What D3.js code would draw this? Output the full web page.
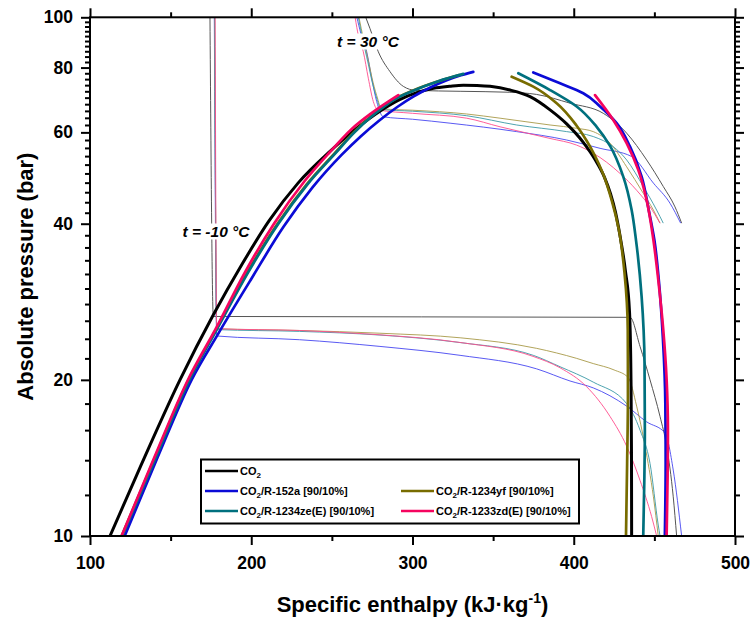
<!DOCTYPE html>
<html><head><meta charset="utf-8">
<script src="https://cdn.jsdelivr.net/npm/d3@7"></script>
<style>
body{margin:0;background:#fff}
text{font-family:Arial,"Liberation Sans",sans-serif;}
</style>
</head><body>
<svg id="chart" width="751" height="626"></svg>
<script>
// ---------- axis ticks ----------
const xTicks = [100, 200, 300, 400, 500];
const xMinorTicks = [150, 250, 350, 450];
const yTicks = [10, 20, 40, 60, 80, 100];
const yMinorTicks = [12,14,16,18,22,24,26,28,30,32,34,36,38,42,44,46,48,50,52,54,56,58,62,64,66,68,70,72,74,76,78,82,84,86,88,90,92,94,96,98];

// ---------- series ----------
const fluidNames = ["CO2", "CO2/R-152a [90/10%]", "CO2/R-1234yf [90/10%]", "CO2/R-1234ze(E) [90/10%]", "CO2/R-1233zd(E) [90/10%]"];
const fluidColors = ["#000000", "#0b0bd6", "#786c00", "#00707e", "#f5045f"];
const thinColors = ["#555555", "#4646f0", "#a89a48", "#3a98a6", "#ff4d8c"];

// saturation curves [h kJ/kg, p bar]
const co2Dome = [[112.4,10],[131,13.55],[155.8,20],[176.5,26.7],[194,33.3],[211,40.5],[229,47.9],[249,55.2],[265,61],[280,66],[292,69.4],[302.6,71.6],[313,73],[323,73.65],[331.5,74.0],[340,73.9],[348.1,73.6],[360.5,72.4],[372.9,70.3],[385.3,66.3],[395.6,62.3],[405.9,57.4],[413.5,53.0],[419,49.2],[422.8,45.7],[425.8,42.2],[428.7,37.9],[432,32.5],[434.6,27],[435.5,20],[435.8,14.5],[435.9,10]];
const r152aLiquid = [[121.5,10],[142,14.2],[163,20],[179,24.4],[200,31.3],[219.9,39.4],[238,47],[256,54.3],[268,59],[279.8,63.4],[291,67.3],[300.5,70.3],[311,73.2],[321.2,75.6],[330,77.3],[337.7,78.5]];
const r152aVapor = [[374.9,78.3],[391.5,74.6],[405.9,71.4],[416.3,67.3],[426.6,62.5],[434.9,56.3],[442.1,49.3],[446.5,42.5],[450,37.2],[452.8,31],[455.3,24],[456.8,18],[457,13.8],[456.5,10]];
const r1234yfLiquid = [[119.6,10],[140,14.1],[160.5,19.8],[178.2,25],[197.5,32.2],[216.3,40],[234.5,47.7],[251.5,54.6],[263.5,60],[275.2,64.8],[287.5,69.2],[300,72.2],[315,75.1],[329,77.4]];
const r1234yfVapor = [[361.5,76.8],[374.9,73.5],[389.4,68.3],[401.8,61.8],[408,57.8],[413,54.2],[418.3,49.8],[423.5,44.4],[428,38.9],[431.5,32.1],[433.5,24.9],[433.6,18.6],[433.1,13.8],[432.4,10]];
const r1234zeLiquid = [[120,10],[140.5,14.1],[161,19.8],[178.6,25],[198,32.2],[216.8,40],[235,47.7],[252,54.6],[264,60],[275.7,64.8],[288,69.2],[300.5,72.2],[316,75.3],[331.5,77.8]];
const r1234zeVapor = [[365.6,78],[385.3,72.4],[401.8,67.3],[414.2,61.5],[422.5,56.5],[430.7,49.3],[435.9,42.5],[438.6,37.2],[442.1,28.9],[443.9,21.5],[444.1,16],[443.8,13],[443.1,10]];
const r1233zdLiquid = [[119.6,10],[140,14.2],[160.4,19.9],[178.6,25.3],[196,32.2],[214.1,40],[233,48.3],[248.8,55],[262,60.8],[275,65.5],[291.2,70.8]];
const r1233zdVapor = [[413.2,70.8],[424.5,63.4],[432.8,57.2],[440,50.8],[445.2,44.4],[449.4,37.2],[452.5,31],[455.5,25],[457.6,20],[458.4,16],[458.2,13],[457.6,10]];

// isotherms t = -10 °C
const isoM10 = [
  [[174.4,100],[176.5,26.5],[434.9,26.4],[441.1,23.2],[447.3,20],[453.5,17],[457.6,14.9],[461.7,11.9],[463.8,10]],
  [[177.1,100],[178.6,24.3],[230,23.9],[279.8,23.2],[329.5,22.3],[377,21.0],[397.7,19.9],[412.1,19.3],[432.8,17.8],[445.2,16.6],[456.6,15.8],[461.7,13.4],[466.9,10]],
  [[177.3,100],[178.6,25.1],[230,24.9],[279.8,24.6],[330,24.1],[377,23.0],[401.8,22.0],[412.1,21.5],[425,20.9],[433.8,20.2],[439,17.8],[444.2,14.9],[449.4,11.9],[452.4,10]],
  [[177.3,100],[178.6,25.0],[230,24.8],[279.8,24.4],[329.5,23.6],[374.9,22.3],[391.5,21.2],[412.1,19.8],[432.8,18.0],[441.1,16.0],[447.3,13.8],[452.4,10.5],[453.5,10]],
  [[177.6,100],[178.6,25.1],[230,24.9],[273.6,24.5],[330,23.6],[374.7,22.2],[391.5,21.1],[408,19.4],[422.5,17.0],[432.8,14.9],[441.1,12.8],[448.3,10.9],[451.4,10]]
];
// isotherms t = 30 °C
const iso30 = [
  [[271,100],[273.6,95.2],[278.8,85.8],[286,78.6],[294.3,73.6],[302,72.3],[330,72.0],[360,71.7],[377,71.0],[397.7,68.3],[418.3,65.3],[432.8,59.8],[445.2,53.1],[455.5,47.2],[462.8,43.1],[466.9,40.1]],
  [[265.5,100],[268,93],[271.6,85.8],[274.7,76.3],[277.8,68.8],[281.9,64.3],[300,63.6],[323.3,62.5],[364.6,60.2],[395.6,58.0],[416.3,55.9],[435.9,53.9],[449.4,47.9],[459.7,43.8],[466.3,40.1]],
  [[266.8,100],[269.5,91],[272.8,82],[275.5,75],[278.5,69.5],[280.5,66.6],[300,66.2],[333.6,65.1],[354.3,63.9],[385.3,62.0],[401.8,61.1],[412.1,60.2],[422.5,57.2],[432.8,51.5],[443.1,45.8],[449.4,42.5],[453.5,40.1]],
  [[266.4,100],[269,91],[272.3,82],[275,75],[278,69.5],[280.5,66.4],[300,65.9],[333.6,64.6],[364.6,62.0],[395.6,60.2],[412.1,58.9],[424.5,56.3],[432.8,53.1],[443.1,47.2],[451.4,42.5],[455.5,40.1]],
  [[264.4,100],[266.5,92],[269.5,85.8],[272.6,76.3],[275.7,68.8],[278.5,66.3],[300,65.3],[333.6,63.9],[354.3,61.5],[385.3,58.4],[401.8,56.7],[412.1,54.7],[428.7,50.0],[439,46.4],[447.3,43.1],[453.5,40.1]]
];

// ---------- layout ----------
const svg = d3.select("#chart");
const L = 90, R = 735, T = 17.3, B = 536;
const x = d3.scaleLinear().domain([100, 500]).range([L, R]);
const y = d3.scaleLog().domain([10, 100]).range([B, T]);

svg.append("defs").append("clipPath").attr("id", "clip")
  .append("rect").attr("x", L).attr("y", T).attr("width", R - L).attr("height", B - T);

const lineX = d3.line().x(d => x(d[0])).y(d => y(d[1])).curve(d3.curveMonotoneX);
const lineY = d3.line().x(d => x(d[0])).y(d => y(d[1])).curve(d3.curveMonotoneY);
const plot = svg.append("g").attr("clip-path", "url(#clip)");

// thin isotherms
[0,1,2,3,4].forEach(i => {
  [isoM10[i], iso30[i]].forEach(d => {
    plot.append("path").attr("d", lineX(d)).attr("fill", "none")
      .attr("stroke", thinColors[i]).attr("stroke-width", i === 0 ? 1 : 0.9);
  });
});

// thick saturation curves
const domes = [
  {c: 0, liq: co2Dome, vap: null, w: 3},
  {c: 1, liq: r152aLiquid, vap: r152aVapor, w: 2.7},
  {c: 2, liq: r1234yfLiquid, vap: r1234yfVapor, w: 2.7},
  {c: 3, liq: r1234zeLiquid, vap: r1234zeVapor, w: 2.7},
  {c: 4, liq: r1233zdLiquid, vap: r1233zdVapor, w: 2.7}
];
domes.forEach(s => {
  plot.append("path").attr("d", lineX(s.liq)).attr("fill", "none")
    .attr("stroke", fluidColors[s.c]).attr("stroke-width", s.w).attr("stroke-linecap", "round");
  if (s.vap) plot.append("path").attr("d", lineY(s.vap)).attr("fill", "none")
    .attr("stroke", fluidColors[s.c]).attr("stroke-width", s.w).attr("stroke-linecap", "round");
});

// isotherm labels with white background
function isoLabel(cx, base, val) {
  const g = svg.append("g");
  const t = g.append("text").attr("x", cx).attr("y", base).attr("text-anchor", "middle")
    .attr("font-size", 15.5).attr("font-weight", "bold").attr("font-style", "italic");
  t.append("tspan").text("t");
  t.append("tspan").text(" = " + val + " °C");
  const bb = t.node().getBBox();
  g.insert("rect", "text").attr("x", bb.x - 1).attr("y", bb.y + 1).attr("width", bb.width + 2)
    .attr("height", bb.height - 1).attr("fill", "#fff");
}
isoLabel(216, 236.5, "-10");
isoLabel(368, 46.5, "30");

// ---------- axes ----------
const fmt = d3.format("d");
function styleAxis(g) {
  g.select(".domain").remove();
  g.selectAll("line").attr("stroke", "#000").attr("stroke-width", 2);
  g.selectAll("text").attr("font-size", 17.5).attr("font-weight", "bold").attr("fill", "#000")
    .attr("font-family", "Arial, 'Liberation Sans', sans-serif");
}
svg.append("g").attr("transform", `translate(0,${B})`)
  .call(d3.axisBottom(x).tickValues(xTicks).tickFormat(fmt).tickSize(9).tickPadding(12)).call(styleAxis);
svg.append("g").attr("transform", `translate(0,${B})`)
  .call(d3.axisBottom(x).tickValues(xMinorTicks).tickFormat("").tickSize(5)).call(styleAxis);
svg.append("g").attr("transform", `translate(0,${T})`)
  .call(d3.axisTop(x).tickValues(xTicks).tickFormat("").tickSize(9)).call(styleAxis);
svg.append("g").attr("transform", `translate(0,${T})`)
  .call(d3.axisTop(x).tickValues(xMinorTicks).tickFormat("").tickSize(5)).call(styleAxis);
svg.append("g").attr("transform", `translate(${L},0)`)
  .call(d3.axisLeft(y).tickValues(yTicks).tickFormat(fmt).tickSize(9).tickPadding(8)).call(styleAxis);
svg.append("g").attr("transform", `translate(${L},0)`)
  .call(d3.axisLeft(y).tickValues(yMinorTicks).tickFormat("").tickSize(5)).call(styleAxis);
svg.append("g").attr("transform", `translate(${R},0)`)
  .call(d3.axisRight(y).tickValues(yTicks).tickFormat("").tickSize(9)).call(styleAxis);
svg.append("g").attr("transform", `translate(${R},0)`)
  .call(d3.axisRight(y).tickValues(yMinorTicks).tickFormat("").tickSize(5)).call(styleAxis);

svg.append("rect").attr("x", L).attr("y", T).attr("width", R - L).attr("height", B - T)
  .attr("fill", "none").attr("stroke", "#000").attr("stroke-width", 2);

// axis titles
svg.append("text").attr("transform", `translate(33,${(T + B) / 2}) rotate(-90)`)
  .attr("text-anchor", "middle").attr("font-size", 22).attr("font-weight", "bold")
  .text("Absolute pressure (bar)");
const xt = svg.append("text").attr("x", (L + R) / 2).attr("y", 612).attr("text-anchor", "middle")
  .attr("font-size", 22).attr("font-weight", "bold");
xt.append("tspan").text("Specific enthalpy (kJ·kg");
xt.append("tspan").attr("font-size", 14).attr("dy", -9).text("-1");
xt.append("tspan").attr("dy", 9).text(")");

// ---------- legend ----------
const lg = svg.append("g");
lg.append("rect").attr("x", 201).attr("y", 459.5).attr("width", 378).attr("height", 64)
  .attr("fill", "#fff").attr("stroke", "#000").attr("stroke-width", 2);
const legendPos = [[205, 471], [205, 491], [401, 491], [205, 511], [401, 511]];
fluidNames.forEach((name, i) => {
  const [lx, ly] = legendPos[i];
  lg.append("line").attr("x1", lx).attr("x2", lx + 33).attr("y1", ly).attr("y2", ly)
    .attr("stroke", fluidColors[i]).attr("stroke-width", 2.4);
  const t = lg.append("text").attr("x", lx + 35).attr("y", ly + 4)
    .attr("font-size", 11).attr("font-weight", "bold");
  t.append("tspan").text("CO");
  t.append("tspan").attr("font-size", 8).attr("dy", 3).text("2");
  t.append("tspan").attr("dy", -3).text(name.slice(3));
});
</script>
</body></html>
